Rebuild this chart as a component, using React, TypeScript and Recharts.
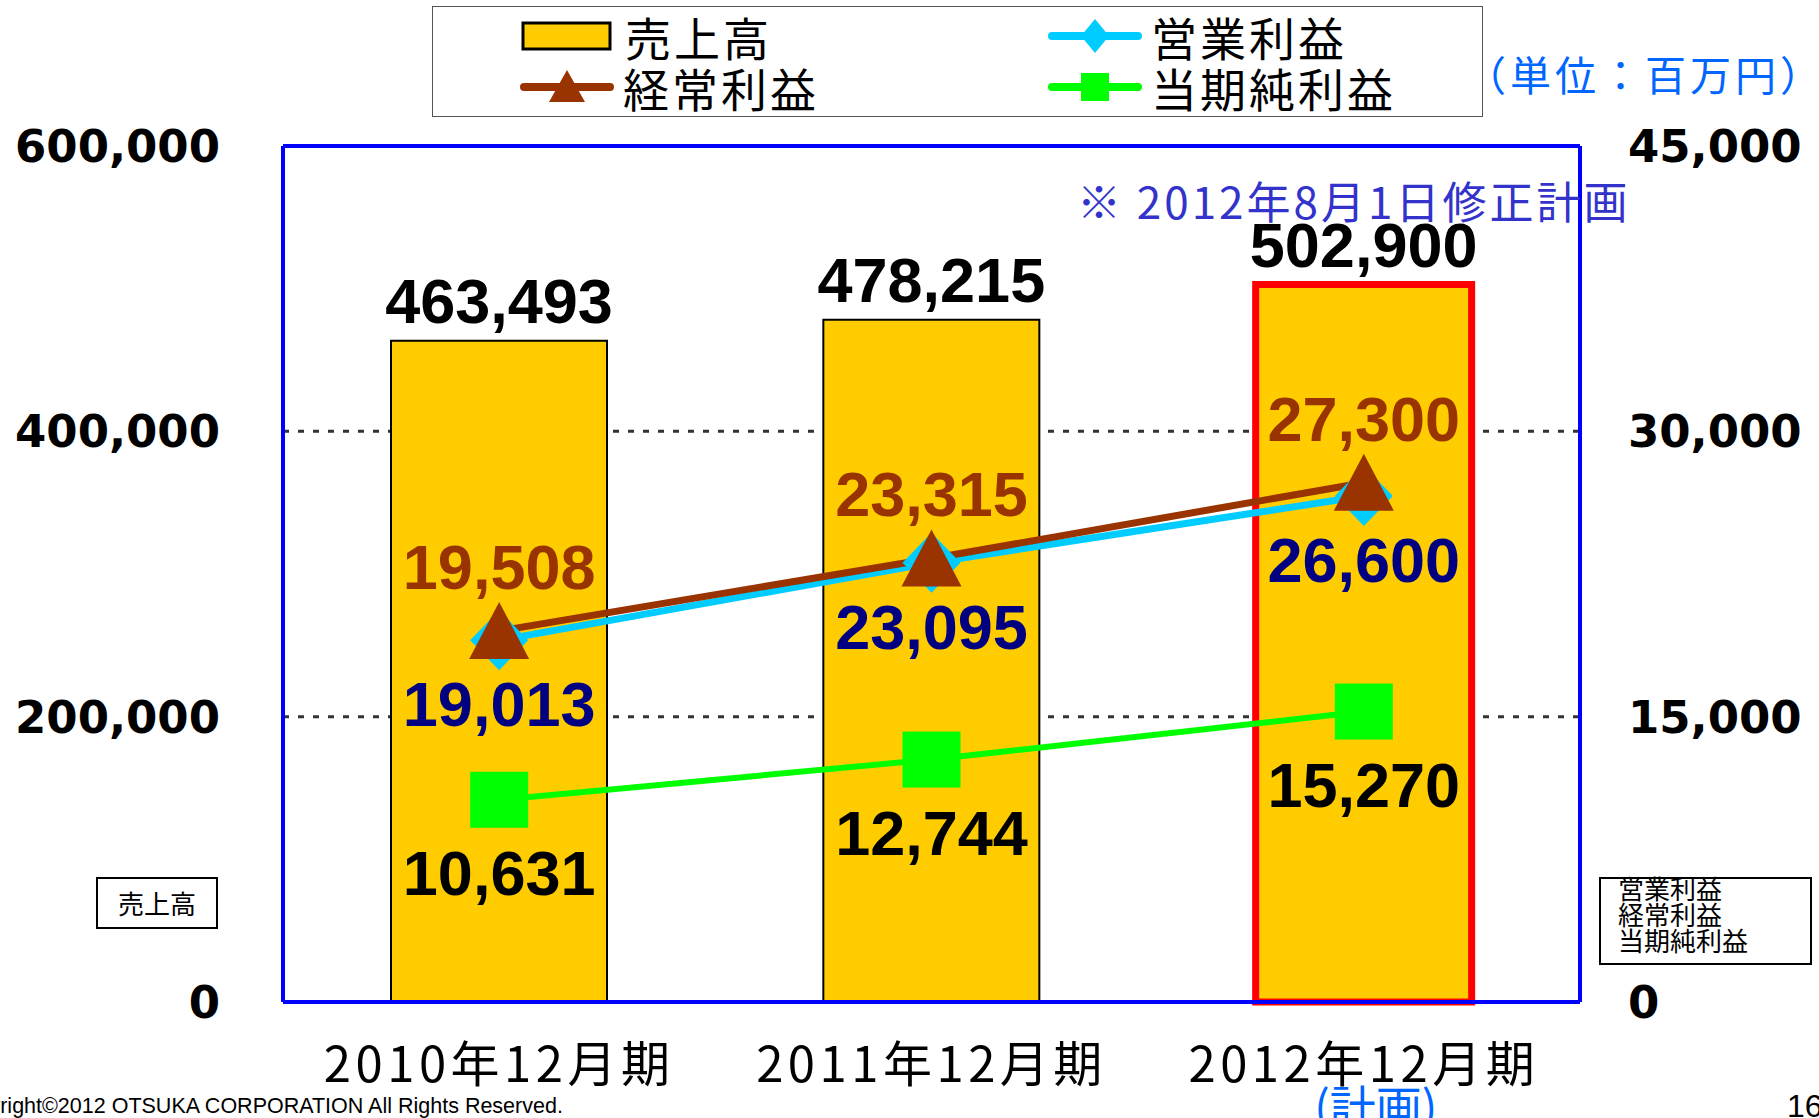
import React from "react";
import {
  Bar,
  CartesianGrid,
  Cell,
  ComposedChart,
  LabelList,
  Legend,
  Line,
  ReferenceLine,
  XAxis,
  YAxis,
} from "recharts";

// 単位：百万円
const periods = ["2010年12月期", "2011年12月期", "2012年12月期"];
const sales = [463493, 478215, 502900];
const operatingProfit = [19013, 23095, 26600];
const ordinaryProfit = [19508, 23315, 27300];
const netIncome = [10631, 12744, 15270];
const salesTicks = [0, 200000, 400000, 600000];
const profitTicks = [0, 15000, 30000, 45000];
const seriesNames = ["売上高", "営業利益", "経常利益", "当期純利益"];
const planPeriod = "2012年12月期";

const data = periods.map((period, i) => ({
  period,
  sales: sales[i],
  operating: operatingProfit[i],
  ordinary: ordinaryProfit[i],
  net: netIncome[i],
}));

const BLUE = "#0000FF";
const YELLOW = "#FFCC00";
const BROWN = "#993300";
const CYAN = "#00CCFF";
const GREEN = "#00FF00";
const NAVY = "#000080";
const JP = "'Noto Sans CJK JP', 'Noto Sans', sans-serif";
const NUM = "'Liberation Sans', Arial, sans-serif";

const fmt = (v: number) => Number(v).toLocaleString("en-US");

const valueText = (x: number, y: number, value: number, color: string) => (
  <text
    x={x}
    y={y}
    textAnchor="middle"
    fill={color}
    fontFamily={NUM}
    fontWeight={700}
    fontSize={63}
  >
    {fmt(value)}
  </text>
);

// labels: y offset is the text baseline relative to the point
const lineLabel = (color: string, dy: number) => (props: any) =>
  valueText(Number(props.x), Number(props.y) + dy, props.value, color);

const SalesLabel = (props: any) =>
  valueText(Number(props.x) + Number(props.width) / 2, Number(props.y) - 18, props.value, "#000");

const TriangleDot = (props: any) => {
  const { cx, cy, index } = props;
  return (
    <path
      key={`tri-${index}`}
      d={`M${cx},${cy - 29} L${cx + 30},${cy + 28} L${cx - 30},${cy + 28} Z`}
      fill={BROWN}
    />
  );
};

const DiamondDot = (props: any) => {
  const { cx, cy, index } = props;
  return (
    <path
      key={`dia-${index}`}
      d={`M${cx},${cy - 30} L${cx + 29},${cy} L${cx},${cy + 30} L${cx - 29},${cy} Z`}
      fill={CYAN}
    />
  );
};

const SquareDot = (props: any) => {
  const { cx, cy, index } = props;
  return <rect key={`sq-${index}`} x={cx - 29} y={cy - 28} width={58} height={56} fill={GREEN} />;
};

const PeriodTick = (props: any) => {
  const { x, y, payload } = props;
  return (
    <g>
      <text
        x={x}
        y={y + 80}
        textAnchor="middle"
        fontFamily={JP}
        fontSize={49}
        letterSpacing={4.5}
        fill="#000"
      >
        {payload.value}
      </text>
      {payload.value === planPeriod && (
        <text x={x + 12} y={y + 122} textAnchor="middle" fontFamily={JP} fontSize={46} fill="#0066FF">
          (計画)
        </text>
      )}
    </g>
  );
};

function LegendIcon({ name }: { name: string }) {
  if (name === seriesNames[0]) {
    return (
      <svg width={96} height={50}>
        <rect x={2} y={12} width={87} height={26} fill={YELLOW} stroke="#000" strokeWidth={3} />
      </svg>
    );
  }
  const color = name === seriesNames[1] ? CYAN : name === seriesNames[2] ? BROWN : GREEN;
  return (
    <svg width={96} height={50}>
      <line x1={5} y1={25} x2={91} y2={25} stroke={color} strokeWidth={8} strokeLinecap="round" />
      {name === seriesNames[1] && <path d="M48,8 L62,25 L48,42 L34,25 Z" fill={CYAN} />}
      {name === seriesNames[2] && <path d="M48,8 L66,40 L30,40 Z" fill={BROWN} />}
      {name === seriesNames[3] && <rect x={34} y={11} width={28} height={28} fill={GREEN} />}
    </svg>
  );
}

const legendSpots = [
  { left: 88, top: 4 },
  { left: 614, top: 4 },
  { left: 86, top: 55 },
  { left: 614, top: 55 },
];

function ChartLegend() {
  return (
    <div
      style={{
        position: "relative",
        width: 1051,
        height: 111,
        border: "1.5px solid #555",
        boxSizing: "border-box",
        background: "#fff",
      }}
    >
      {seriesNames.map((name, i) => (
        <div
          key={name}
          style={{
            position: "absolute",
            left: legendSpots[i].left,
            top: legendSpots[i].top,
            height: 50,
            display: "flex",
            alignItems: "center",
          }}
        >
          <LegendIcon name={name} />
          <span
            style={{
              marginLeft: 8,
              fontFamily: JP,
              fontSize: 46,
              letterSpacing: 3,
              lineHeight: "50px",
              color: "#000",
              whiteSpace: "nowrap",
            }}
          >
            {name}
          </span>
        </div>
      ))}
    </div>
  );
}

const axisTick = { fill: "#000", fontSize: 45, fontWeight: 700, fontFamily: "'DejaVu Sans', sans-serif" };

export default function App() {
  return (
    <div
      style={{
        position: "absolute",
        left: 0,
        top: 0,
        width: 1819,
        height: 1118,
        overflow: "hidden",
        background: "#fff",
      }}
    >
      <ComposedChart
        width={1819}
        height={1118}
        data={data}
        margin={{ top: 146, right: 0, bottom: 0, left: 0 }}
        barCategoryGap="25%"
      >
        <CartesianGrid
          yAxisId="left"
          vertical={false}
          stroke="#333"
          strokeWidth={3}
          strokeDasharray="6 9"
        />
        <Bar
          yAxisId="left"
          dataKey="sales"
          name={seriesNames[0]}
          barSize={216}
          fill={YELLOW}
          stroke="#000"
          strokeWidth={2}
          isAnimationActive={false}
        >
          {data.map((d) => (
            <Cell
              key={d.period}
              fill={YELLOW}
              stroke={d.period === planPeriod ? "#FF0000" : "#000"}
              strokeWidth={d.period === planPeriod ? 7 : 2}
            />
          ))}
          <LabelList dataKey="sales" content={SalesLabel} />
        </Bar>
        <Line
          yAxisId="right"
          dataKey="operating"
          name={seriesNames[1]}
          stroke={CYAN}
          strokeWidth={7}
          dot={DiamondDot}
          activeDot={false}
          isAnimationActive={false}
        >
          <LabelList dataKey="operating" content={lineLabel(NAVY, 86)} />
        </Line>
        <Line
          yAxisId="right"
          dataKey="ordinary"
          name={seriesNames[2]}
          stroke={BROWN}
          strokeWidth={7}
          dot={TriangleDot}
          activeDot={false}
          isAnimationActive={false}
        >
          <LabelList dataKey="ordinary" content={lineLabel(BROWN, -42)} />
        </Line>
        <Line
          yAxisId="right"
          dataKey="net"
          name={seriesNames[3]}
          stroke={GREEN}
          strokeWidth={6}
          dot={SquareDot}
          activeDot={false}
          isAnimationActive={false}
        >
          <LabelList dataKey="net" content={lineLabel("#000", 95)} />
        </Line>
        <XAxis
          dataKey="period"
          height={116}
          interval={0}
          axisLine={{ stroke: BLUE, strokeWidth: 4 }}
          tickLine={false}
          tickSize={0}
          tickMargin={0}
          tick={PeriodTick}
        />
        <YAxis
          yAxisId="left"
          width={283}
          domain={[0, 600000]}
          ticks={salesTicks}
          tickFormatter={fmt}
          axisLine={{ stroke: BLUE, strokeWidth: 4 }}
          tickLine={false}
          tickSize={0}
          tickMargin={63}
          tick={axisTick}
        />
        <YAxis
          yAxisId="right"
          orientation="right"
          width={239}
          domain={[0, 45000]}
          ticks={profitTicks}
          tickFormatter={fmt}
          axisLine={{ stroke: BLUE, strokeWidth: 4 }}
          tickLine={false}
          tickSize={0}
          tickMargin={48}
          tick={axisTick}
        />
        <ReferenceLine yAxisId="left" y={600000} stroke={BLUE} strokeWidth={4} />
        <Legend
          layout="horizontal"
          verticalAlign="middle"
          align="center"
          content={() => <ChartLegend />}
          wrapperStyle={{ position: "absolute", left: 432, top: 6, width: 1051, height: 111 }}
        />
      </ComposedChart>

      {/* unit */}
      <div
        style={{
          position: "absolute",
          left: 1465,
          top: 51,
          fontFamily: JP,
          fontSize: 41,
          lineHeight: "44px",
          letterSpacing: 4,
          color: "#0066FF",
          whiteSpace: "nowrap",
        }}
      >
        （単位：百万円）
      </div>

      {/* plan note */}
      <div
        style={{
          position: "absolute",
          left: 1077,
          top: 177,
          fontFamily: JP,
          fontSize: 44,
          lineHeight: "46px",
          letterSpacing: 3,
          color: "#3333CC",
          whiteSpace: "nowrap",
        }}
      >
        ※ 2012年8月1日修正計画
      </div>

      {/* axis captions */}
      <div
        style={{
          position: "absolute",
          left: 96,
          top: 877,
          width: 122,
          height: 52,
          border: "2px solid #000",
          boxSizing: "border-box",
          background: "#fff",
          fontFamily: JP,
          fontSize: 26,
          lineHeight: "48px",
          textAlign: "center",
        }}
      >
        売上高
      </div>
      <div
        style={{
          position: "absolute",
          left: 1599,
          top: 877,
          width: 213,
          height: 88,
          border: "2px solid #000",
          boxSizing: "border-box",
          background: "#fff",
        }}
      />
      <div
        style={{
          position: "absolute",
          left: 1618,
          top: 875,
          fontFamily: JP,
          fontSize: 26,
          lineHeight: "26px",
          whiteSpace: "nowrap",
        }}
      >
        営業利益
        <br />
        経常利益
        <br />
        当期純利益
      </div>

      {/* footer */}
      <div
        style={{
          position: "absolute",
          left: -50,
          top: 1094,
          fontFamily: NUM,
          fontSize: 21.5,
          lineHeight: "24px",
          whiteSpace: "nowrap",
        }}
      >
        Copyright©2012 OTSUKA CORPORATION All Rights Reserved.
      </div>
      <div
        style={{
          position: "absolute",
          left: 1787,
          top: 1088,
          fontFamily: NUM,
          fontSize: 32,
          lineHeight: "36px",
        }}
      >
        16
      </div>
    </div>
  );
}
